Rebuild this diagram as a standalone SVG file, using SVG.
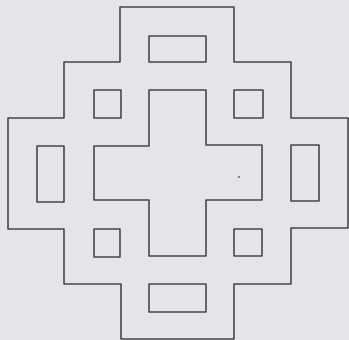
<svg xmlns="http://www.w3.org/2000/svg" width="349" height="340" viewBox="0 0 349 340">
<style>
.ln{fill:none;stroke:#45454a;stroke-width:1.6;stroke-linejoin:round}
</style>
<rect x="0" y="0" width="349" height="340" fill="#e7e3ea"/>
<g id="outer"><path class="ln" d="M120,7 H234 V62 H291 V118 H348 V228 H291 V284 H234 V339 H121 V284 H64 V229 H8 V118 H64 V62 H120 Z"/></g>
<g id="cross"><path class="ln" d="M149,90 H206 V145 H262 V200 H206 V256 H149 V200 H94 V146 H149 Z"/></g>
<g id="sq-tl"><rect class="ln" x="94" y="90" width="27" height="28"/></g>
<g id="sq-tr"><rect class="ln" x="234" y="90" width="29" height="28"/></g>
<g id="sq-bl"><rect class="ln" x="94" y="229" width="26" height="28"/></g>
<g id="sq-br"><rect class="ln" x="234" y="229" width="28" height="27"/></g>
<g id="rect-top"><rect class="ln" x="149" y="36" width="57" height="26"/></g>
<g id="rect-left"><rect class="ln" x="37" y="146" width="27" height="56"/></g>
<g id="rect-right"><rect class="ln" x="291" y="145" width="28" height="56"/></g>
<g id="rect-bottom"><rect class="ln" x="149" y="284" width="57" height="28"/></g>
<g id="connectors"></g>
<circle cx="239" cy="177" r="0.9" fill="#55555a"/>
</svg>
